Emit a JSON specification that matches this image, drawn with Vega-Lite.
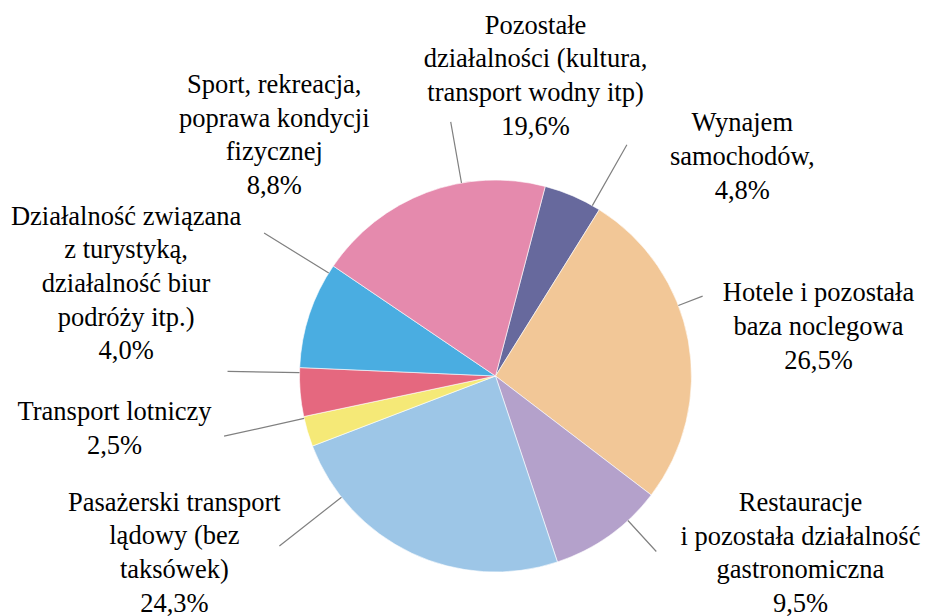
{
  "$schema": "https://vega.github.io/schema/vega-lite/v6.json",
  "autosize": {"type": "none"},
  "padding": {"left": 66, "top": 136, "right": 0, "bottom": 0},
  "width": 859,
  "height": 480,
  "background": "white",
  "config": {"view": {"stroke": null}},
  "data": {
    "values": [
      {"n": 1, "cat": "Wynajem samochodów", "v": 4.8, "label": "Wynajem\nsamochodów,\n4,8%"},
      {"n": 2, "cat": "Hotele i pozostała baza noclegowa", "v": 26.5, "label": "Hotele i pozostała\nbaza noclegowa\n26,5%"},
      {"n": 3, "cat": "Restauracje i pozostała działalność gastronomiczna", "v": 9.5, "label": "Restauracje\ni pozostała działalność\ngastronomiczna\n9,5%"},
      {"n": 4, "cat": "Pasażerski transport lądowy (bez taksówek)", "v": 24.3, "label": "Pasażerski transport\nlądowy (bez\ntaksówek)\n24,3%"},
      {"n": 5, "cat": "Transport lotniczy", "v": 2.5, "label": "Transport lotniczy\n2,5%"},
      {"n": 6, "cat": "Działalność związana z turystyką, działalność biur podróży itp.)", "v": 4.0, "label": "Działalność związana\nz turystyką,\ndziałalność biur\npodróży itp.)\n4,0%"},
      {"n": 7, "cat": "Sport, rekreacja, poprawa kondycji fizycznej", "v": 8.8, "label": "Sport, rekreacja,\npoprawa kondycji\nfizycznej\n8,8%"},
      {"n": 8, "cat": "Pozostałe działalności (kultura, transport wodny itp)", "v": 19.6, "label": "Pozostałe\ndziałalności (kultura,\ntransport wodny itp)\n19,6%"}
    ]
  },
  "transform": [
    {"stack": "v", "groupby": [], "sort": [{"field": "n", "order": "ascending"}], "as": ["v0", "v1"]}
  ],
  "encoding": {
    "theta": {"field": "v0", "type": "quantitative", "stack": null, "scale": {"domain": [0, 100], "range": [0.25656, 6.53975]}}
  },
  "layer": [
    {
      "mark": {"type": "arc", "outerRadius": 196, "stroke": "white", "strokeWidth": 0.6},
      "encoding": {
        "theta2": {"field": "v1"},
        "color": {
          "field": "cat", "type": "nominal", "legend": null,
          "scale": {
            "domain": ["Wynajem samochodów", "Hotele i pozostała baza noclegowa", "Restauracje i pozostała działalność gastronomiczna", "Pasażerski transport lądowy (bez taksówek)", "Transport lotniczy", "Działalność związana z turystyką, działalność biur podróży itp.)", "Sport, rekreacja, poprawa kondycji fizycznej", "Pozostałe działalności (kultura, transport wodny itp)"],
            "range": ["#67699D", "#F2C797", "#B4A1CB", "#9DC6E7", "#F5E977", "#E5687F", "#4AADE1", "#E58AAD"]
          }
        }
      }
    },
    {
      "transform": [{"filter": "datum.n == 1"}],
      "layer": [
        {"mark": {"type": "arc", "innerRadius": 196, "outerRadius": 266, "padAngle": 3.14159, "thetaOffset": 0.1093, "theta2Offset": 0.1093, "filled": false, "stroke": "#808080", "strokeWidth": 1.2}, "encoding": {"theta2": {"field": "v1"}}},
        {"mark": {"type": "text", "font": "Liberation Serif", "fontSize": 26.5, "lineHeight": 33.7, "lineBreak": "\n", "align": "center", "baseline": "middle", "color": "black", "radius": 330, "thetaOffset": 0.5882, "dy": -33.7}, "encoding": {"text": {"field": "label"}}}
      ]
    },
    {
      "transform": [{"filter": "datum.n == 2"}],
      "layer": [
        {"mark": {"type": "arc", "innerRadius": 196, "outerRadius": 222, "padAngle": 3.14159, "thetaOffset": -0.1881, "theta2Offset": -0.1881, "filled": false, "stroke": "#808080", "strokeWidth": 1.2}, "encoding": {"theta2": {"field": "v1"}}},
        {"mark": {"type": "text", "font": "Liberation Serif", "fontSize": 26.5, "lineHeight": 33.7, "lineBreak": "\n", "align": "center", "baseline": "middle", "color": "black", "radius": 326.7, "thetaOffset": 0.8625, "dy": -33.7}, "encoding": {"text": {"field": "label"}}}
      ]
    },
    {
      "transform": [{"filter": "datum.n == 3"}],
      "layer": [
        {"mark": {"type": "arc", "innerRadius": 196, "outerRadius": 238, "padAngle": 3.14159, "thetaOffset": -0.1218, "theta2Offset": -0.1218, "filled": false, "stroke": "#808080", "strokeWidth": 1.2}, "encoding": {"theta2": {"field": "v1"}}},
        {"mark": {"type": "text", "font": "Liberation Serif", "fontSize": 26.5, "lineHeight": 33.7, "lineBreak": "\n", "align": "center", "baseline": "middle", "color": "black", "radius": 352.9, "thetaOffset": -0.1253, "dy": -50.5}, "encoding": {"text": {"field": "label"}}}
      ]
    },
    {
      "transform": [{"filter": "datum.n == 4"}],
      "layer": [
        {"mark": {"type": "arc", "innerRadius": 196, "outerRadius": 275, "padAngle": 3.14159, "thetaOffset": 0.4622, "theta2Offset": 0.4622, "filled": false, "stroke": "#808080", "strokeWidth": 1.2}, "encoding": {"theta2": {"field": "v1"}}},
        {"mark": {"type": "text", "font": "Liberation Serif", "fontSize": 26.5, "lineHeight": 33.7, "lineBreak": "\n", "align": "center", "baseline": "middle", "color": "black", "radius": 366.8, "thetaOffset": 1.3879, "dy": -50.5}, "encoding": {"text": {"field": "label"}}}
      ]
    },
    {
      "transform": [{"filter": "datum.n == 5"}],
      "layer": [
        {"mark": {"type": "arc", "innerRadius": 196, "outerRadius": 278, "padAngle": 3.14159, "thetaOffset": 0.0688, "theta2Offset": 0.0688, "filled": false, "stroke": "#808080", "strokeWidth": 1.2}, "encoding": {"theta2": {"field": "v1"}}},
        {"mark": {"type": "text", "font": "Liberation Serif", "fontSize": 26.5, "lineHeight": 33.7, "lineBreak": "\n", "align": "center", "baseline": "middle", "color": "black", "radius": 384.6, "thetaOffset": 0.2276, "dy": -16.85}, "encoding": {"text": {"field": "label"}}}
      ]
    },
    {
      "transform": [{"filter": "datum.n == 6"}],
      "layer": [
        {"mark": {"type": "arc", "innerRadius": 196, "outerRadius": 268, "padAngle": 3.14159, "thetaOffset": 0.1002, "theta2Offset": 0.1002, "filled": false, "stroke": "#808080", "strokeWidth": 1.2}, "encoding": {"theta2": {"field": "v1"}}},
        {"mark": {"type": "text", "font": "Liberation Serif", "fontSize": 26.5, "lineHeight": 33.7, "lineBreak": "\n", "align": "center", "baseline": "middle", "color": "black", "radius": 380.7, "thetaOffset": 0.4527, "dy": -67.4}, "encoding": {"text": {"field": "label"}}}
      ]
    },
    {
      "transform": [{"filter": "datum.n == 7"}],
      "layer": [
        {"mark": {"type": "arc", "innerRadius": 196, "outerRadius": 272, "padAngle": 3.14159, "thetaOffset": 0.2339, "theta2Offset": 0.2339, "filled": false, "stroke": "#808080", "strokeWidth": 1.2}, "encoding": {"theta2": {"field": "v1"}}},
        {"mark": {"type": "text", "font": "Liberation Serif", "fontSize": 26.5, "lineHeight": 33.7, "lineBreak": "\n", "align": "center", "baseline": "middle", "color": "black", "radius": 326.8, "thetaOffset": 0.7843, "dy": -50.5}, "encoding": {"text": {"field": "label"}}}
      ]
    },
    {
      "transform": [{"filter": "datum.n == 8"}],
      "layer": [
        {"mark": {"type": "arc", "innerRadius": 196, "outerRadius": 258, "padAngle": 3.14159, "thetaOffset": 0.1847, "theta2Offset": 0.1847, "filled": false, "stroke": "#808080", "strokeWidth": 1.2}, "encoding": {"theta2": {"field": "v1"}}},
        {"mark": {"type": "text", "font": "Liberation Serif", "fontSize": 26.5, "lineHeight": 33.7, "lineBreak": "\n", "align": "center", "baseline": "middle", "color": "black", "radius": 302.5, "thetaOffset": 1.1076, "dy": -50.5}, "encoding": {"text": {"field": "label"}}}
      ]
    }
  ]
}
